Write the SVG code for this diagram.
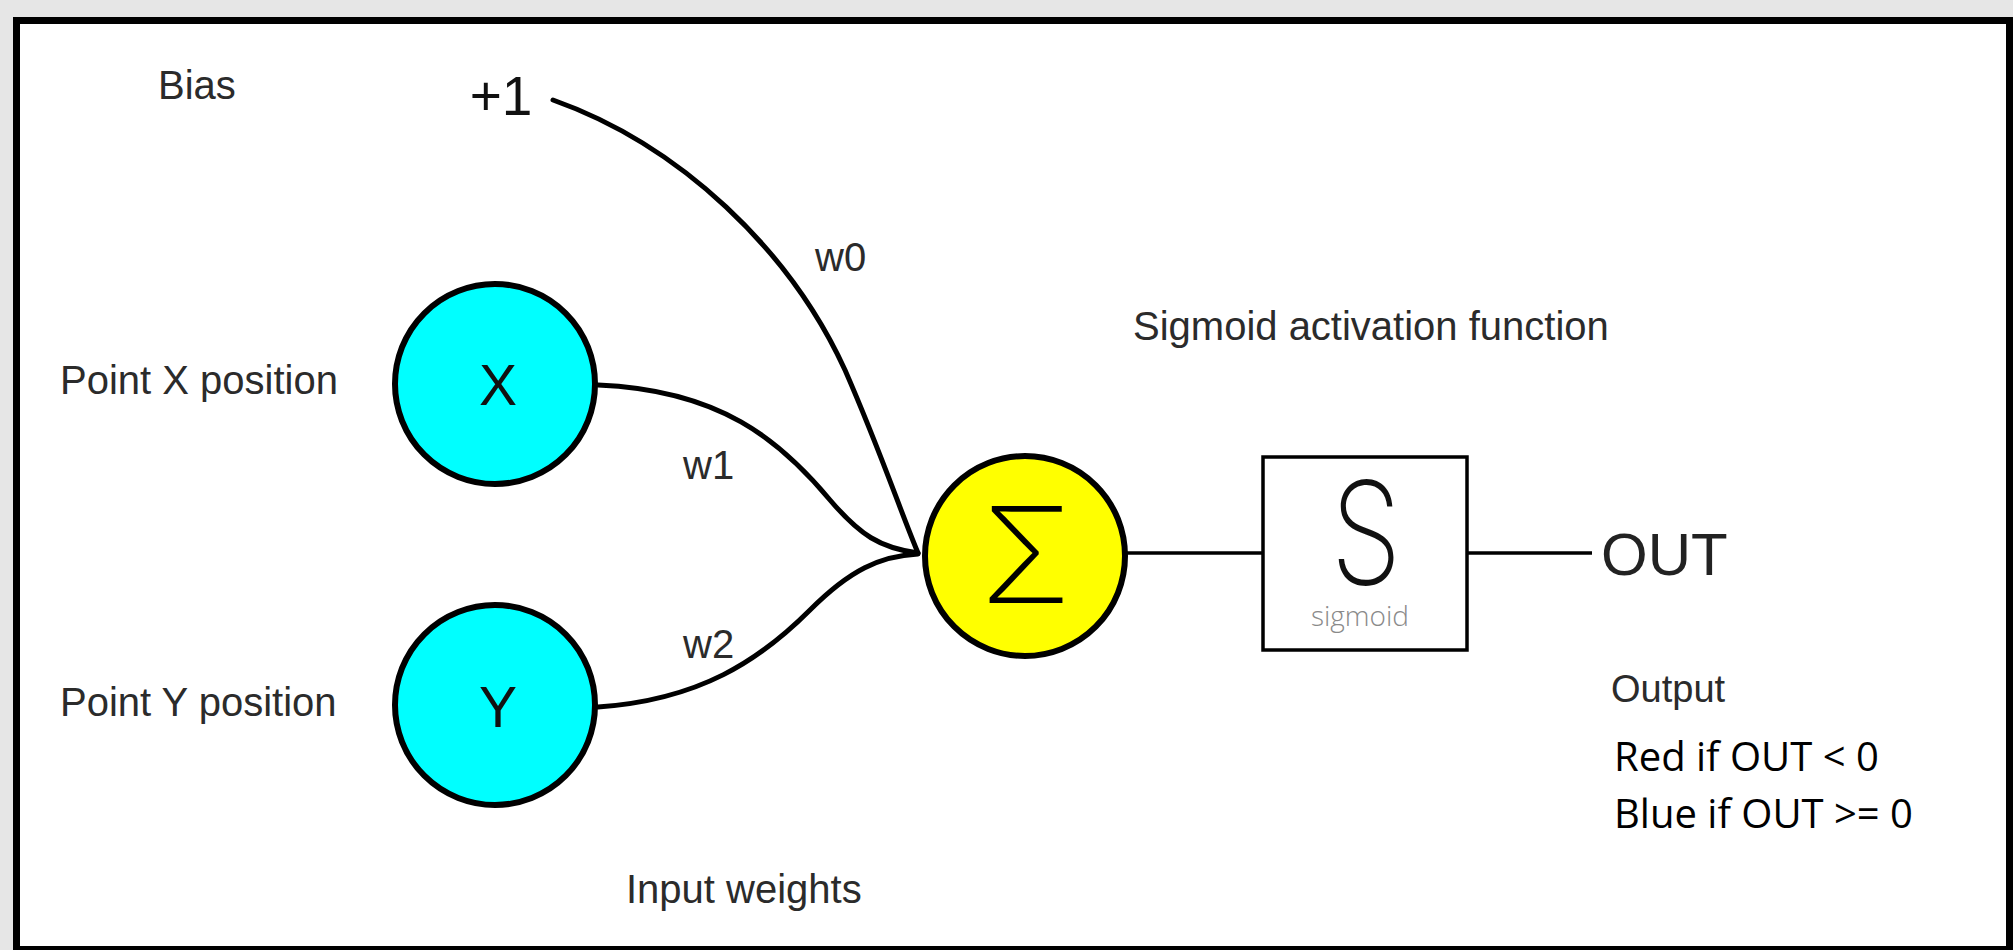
<svg xmlns="http://www.w3.org/2000/svg" width="2013" height="950" viewBox="0 0 2013 950">
  <style>
    .lbl { font-family: "Liberation Sans", Arial, sans-serif; font-size: 40px; fill: #2b2b2b; }
    .node { stroke: #000; stroke-width: 6; }
    .wire { fill: none; stroke: #000; stroke-width: 5; stroke-linecap: round; }
    .line { fill: none; stroke: #000; stroke-width: 3.5; }
    .sym { font-family: "Liberation Sans", Arial, sans-serif; fill: #111; text-anchor: middle; }
    .glyph { font-family: Inter, "DejaVu Sans", sans-serif; text-anchor: middle; }
    .note { font-family: "Open Sans", "Noto Sans", sans-serif; font-size: 40px; fill: #000; }
  </style>

  <!-- page and frame -->
  <rect x="0" y="0" width="2013" height="950" fill="#e6e6e6"/>
  <rect x="16.5" y="20.5" width="1993" height="929" fill="#fff" stroke="#000" stroke-width="7"/>

  <!-- side labels -->
  <text class="lbl" x="158" y="99">Bias</text>
  <text class="lbl" x="60" y="394">Point X position</text>
  <text class="lbl" x="60" y="716">Point Y position</text>
  <text class="lbl" x="626" y="903">Input weights</text>
  <text class="lbl" x="1133" y="340">Sigmoid activation function</text>

  <!-- weighted connections into the summing node -->
  <g id="connectors">
    <path class="wire" d="M553,100 C680,145 790,250 845,370 C880,450 900,510 918,553"/>
    <path class="wire" d="M598,385 C720,390 780,440 830,500 C860,535 880,548 918,553"/>
    <path class="wire" d="M598,707 C700,700 760,660 810,610 C850,570 880,556 918,554"/>
    <line class="line" x1="1125" y1="553" x2="1263" y2="553"/>
    <line class="line" x1="1467" y1="553" x2="1592" y2="553"/>
    <text class="lbl" x="815" y="271">w0</text>
    <text class="lbl" x="683" y="479">w1</text>
    <text class="lbl" x="683" y="658">w2</text>
  </g>

  <g id="bias">
    <text class="sym" x="501" y="115" font-size="55">+1</text>
  </g>

  <g id="input-x">
    <circle class="node" cx="495" cy="384" r="100" fill="#00ffff"/>
    <text class="sym" x="498" y="405" font-size="57">X</text>
  </g>

  <g id="input-y">
    <circle class="node" cx="495" cy="705" r="100" fill="#00ffff"/>
    <text class="sym" x="498" y="727" font-size="57">Y</text>
  </g>

  <g id="sum">
    <circle class="node" cx="1025" cy="556" r="100" fill="#ffff00"/>
    <text class="glyph" x="1026" y="603" font-weight="200" font-size="134" fill="#000">Σ</text>
  </g>

  <g id="sigmoid">
    <rect x="1263" y="457" width="204" height="193" fill="#fff" stroke="#000" stroke-width="3.5"/>
    <text class="glyph" transform="translate(1366,584) scale(0.8,1)" font-weight="200" font-size="142" fill="#111">S</text>
    <text x="1360" y="626" font-family="'Open Sans', 'Noto Sans', sans-serif" font-weight="300" font-size="28" fill="#8a8a8a" text-anchor="middle">sigmoid</text>
  </g>

  <g id="output">
    <text class="lbl" x="1601" y="575" style="font-size:60px;fill:#222">OUT</text>
    <text class="lbl" x="1611" y="702" style="font-size:38px">Output</text>
    <text class="note" x="1614" y="771">Red if OUT &lt; 0</text>
    <text class="note" x="1614" y="828">Blue if OUT &gt;= 0</text>
  </g>
</svg>
